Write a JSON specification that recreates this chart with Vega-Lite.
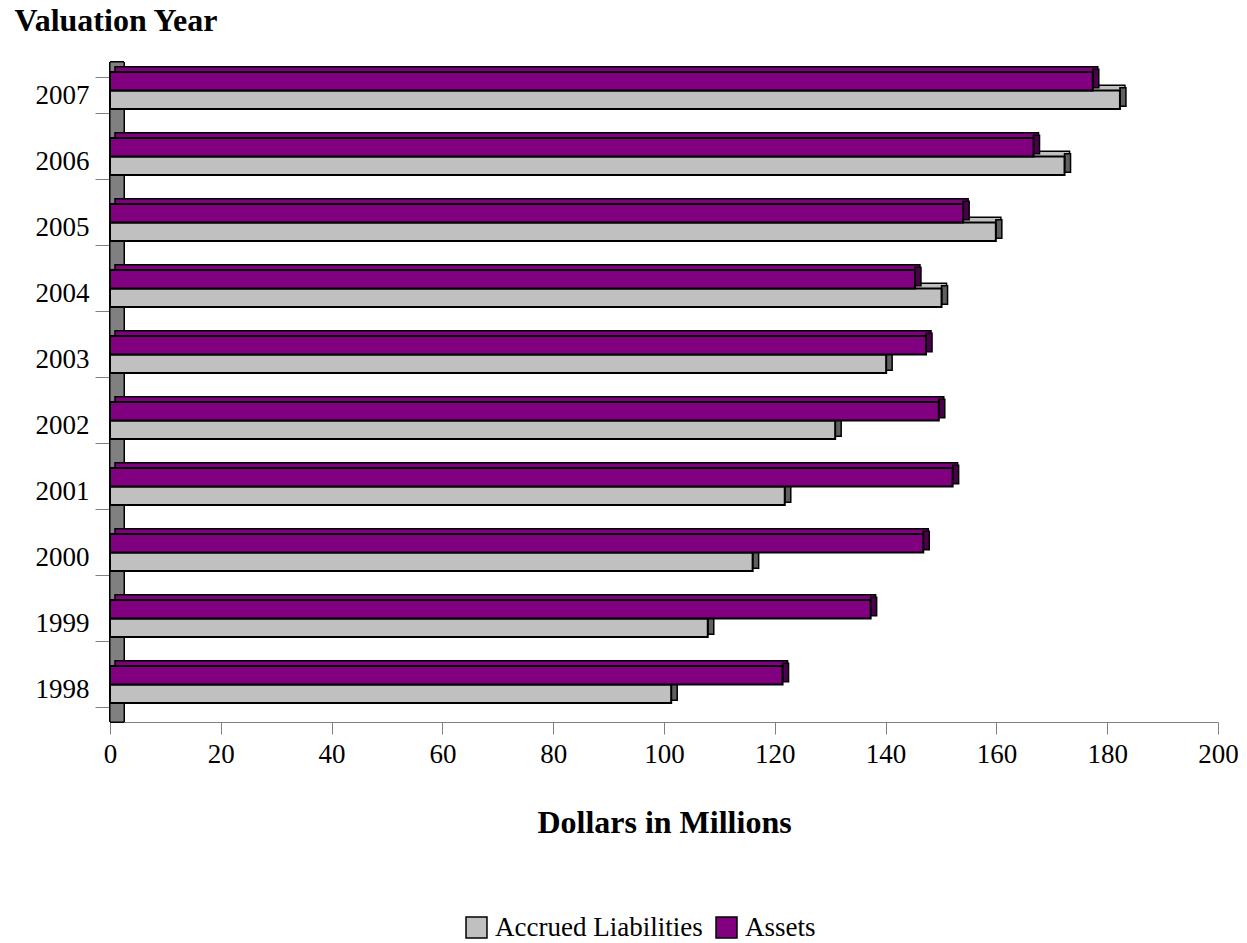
{
  "$schema": "https://vega.github.io/schema/vega-lite/v6.json",
  "width": 1108,
  "height": 660,
  "autosize": "none",
  "padding": {"left": 110, "top": 62, "right": 29, "bottom": 221},
  "background": "white",
  "config": {
    "view": {"stroke": null},
    "font": "Liberation Serif",
    "axis": {"labelFont": "Liberation Serif", "titleFont": "Liberation Serif", "labelColor": "black", "titleColor": "black"},
    "legend": {"labelFont": "Liberation Serif", "labelColor": "black"}
  },
  "data": {
    "values": [
      {"year": "2007", "series": "Assets", "value": 177.4},
      {"year": "2007", "series": "Accrued Liabilities", "value": 182.3},
      {"year": "2006", "series": "Assets", "value": 166.7},
      {"year": "2006", "series": "Accrued Liabilities", "value": 172.3},
      {"year": "2005", "series": "Assets", "value": 154.0},
      {"year": "2005", "series": "Accrued Liabilities", "value": 159.9},
      {"year": "2004", "series": "Assets", "value": 145.3},
      {"year": "2004", "series": "Accrued Liabilities", "value": 150.1},
      {"year": "2003", "series": "Assets", "value": 147.3},
      {"year": "2003", "series": "Accrued Liabilities", "value": 140.1},
      {"year": "2002", "series": "Assets", "value": 149.6},
      {"year": "2002", "series": "Accrued Liabilities", "value": 130.9},
      {"year": "2001", "series": "Assets", "value": 152.1},
      {"year": "2001", "series": "Accrued Liabilities", "value": 121.8},
      {"year": "2000", "series": "Assets", "value": 146.8},
      {"year": "2000", "series": "Accrued Liabilities", "value": 116.0},
      {"year": "1999", "series": "Assets", "value": 137.3},
      {"year": "1999", "series": "Accrued Liabilities", "value": 107.9},
      {"year": "1998", "series": "Assets", "value": 121.4},
      {"year": "1998", "series": "Accrued Liabilities", "value": 101.3}
    ]
  },
  "encoding": {
    "y": {
      "field": "year", "type": "nominal", "sort": "descending",
      "scale": {"paddingInner": 0.44, "paddingOuter": 0.22},
      "axis": {
        "title": "Valuation Year", "titleAngle": 0, "titleFontSize": 32, "titleFontWeight": "bold",
        "titleAlign": "left", "titleBaseline": "alphabetic", "titleX": -96, "titleY": -32,
        "labelFontSize": 27, "labelPadding": 6, "tickSize": 15, "tickColor": "#808080",
        "tickBand": "extent", "domain": false, "labelBaseline": "middle"
      }
    }
  },
  "layer": [
    {
      "mark": {"type": "rect", "fill": "#808080", "stroke": "black", "strokeWidth": 1, "x2Offset": 14},
      "encoding": {
        "x": {"datum": 0, "type": "quantitative"},
        "x2": {"datum": 0},
        "y": null
      }
    },
    {
      "transform": [{"filter": "datum.series === 'Accrued Liabilities'"}],
      "mark": {"type": "bar", "height": {"band": 0.5}, "xOffset": 5, "x2Offset": 5, "yOffset": -0.5, "stroke": "black", "strokeWidth": 1.5, "fill": "#c0c0c0"},
      "encoding": {"x": {"field": "value", "type": "quantitative"}}
    },
    {
      "transform": [{"filter": "datum.series === 'Assets'"}],
      "mark": {"type": "bar", "height": {"band": 0.5}, "xOffset": 5, "x2Offset": 5, "yOffset": -19, "stroke": "black", "strokeWidth": 1.5, "fill": "#800080"},
      "encoding": {"x": {"field": "value", "type": "quantitative"}}
    },
    {
      "transform": [{"filter": "datum.series === 'Accrued Liabilities'"}],
      "mark": {"type": "bar", "height": {"band": 0.5}, "x2Offset": 6, "yOffset": 2, "stroke": "black", "strokeWidth": 1.5, "fill": "#606060"},
      "encoding": {"x": {"field": "value", "type": "quantitative"}, "x2": {"field": "value"}}
    },
    {
      "transform": [{"filter": "datum.series === 'Assets'"}],
      "mark": {"type": "bar", "height": {"band": 0.5}, "x2Offset": 6, "yOffset": -16.5, "stroke": "black", "strokeWidth": 1.5, "fill": "#4b004b"},
      "encoding": {"x": {"field": "value", "type": "quantitative"}, "x2": {"field": "value"}}
    },
    {
      "transform": [{"filter": "datum.series === 'Accrued Liabilities'"}],
      "mark": {"type": "bar", "height": {"band": 0.5}, "yOffset": 4.75, "stroke": "black", "strokeWidth": 2},
      "encoding": {
        "x": {"field": "value", "type": "quantitative"},
        "color": {"field": "series", "type": "nominal"}
      }
    },
    {
      "transform": [{"filter": "datum.series === 'Assets'"}],
      "mark": {"type": "bar", "height": {"band": 0.5}, "yOffset": -13.75, "stroke": "black", "strokeWidth": 2},
      "encoding": {
        "x": {
          "field": "value", "type": "quantitative",
          "scale": {"domain": [0, 200], "nice": false},
          "axis": {
            "values": [0, 20, 40, 60, 80, 100, 120, 140, 160, 180, 200],
            "title": "Dollars in Millions", "titleFontSize": 32, "titleFontWeight": "bold", "titlePadding": 40,
            "labelFontSize": 27, "labelPadding": 7, "tickSize": 12, "tickColor": "#808080",
            "domainColor": "#808080", "grid": false, "labelFlush": false
          }
        },
        "color": {
          "field": "series", "type": "nominal",
          "scale": {"domain": ["Accrued Liabilities", "Assets"], "range": ["#c0c0c0", "#800080"]},
          "legend": {
            "title": null, "orient": "none", "legendX": 353, "legendY": 852, "direction": "horizontal",
            "symbolType": "square", "symbolSize": 440, "symbolStrokeColor": "black", "symbolStrokeWidth": 1.5,
            "labelFontSize": 27, "labelOffset": 5, "columnPadding": 10, "symbolOpacity": 1, "labelLimit": 0
          }
        }
      }
    }
  ]
}
